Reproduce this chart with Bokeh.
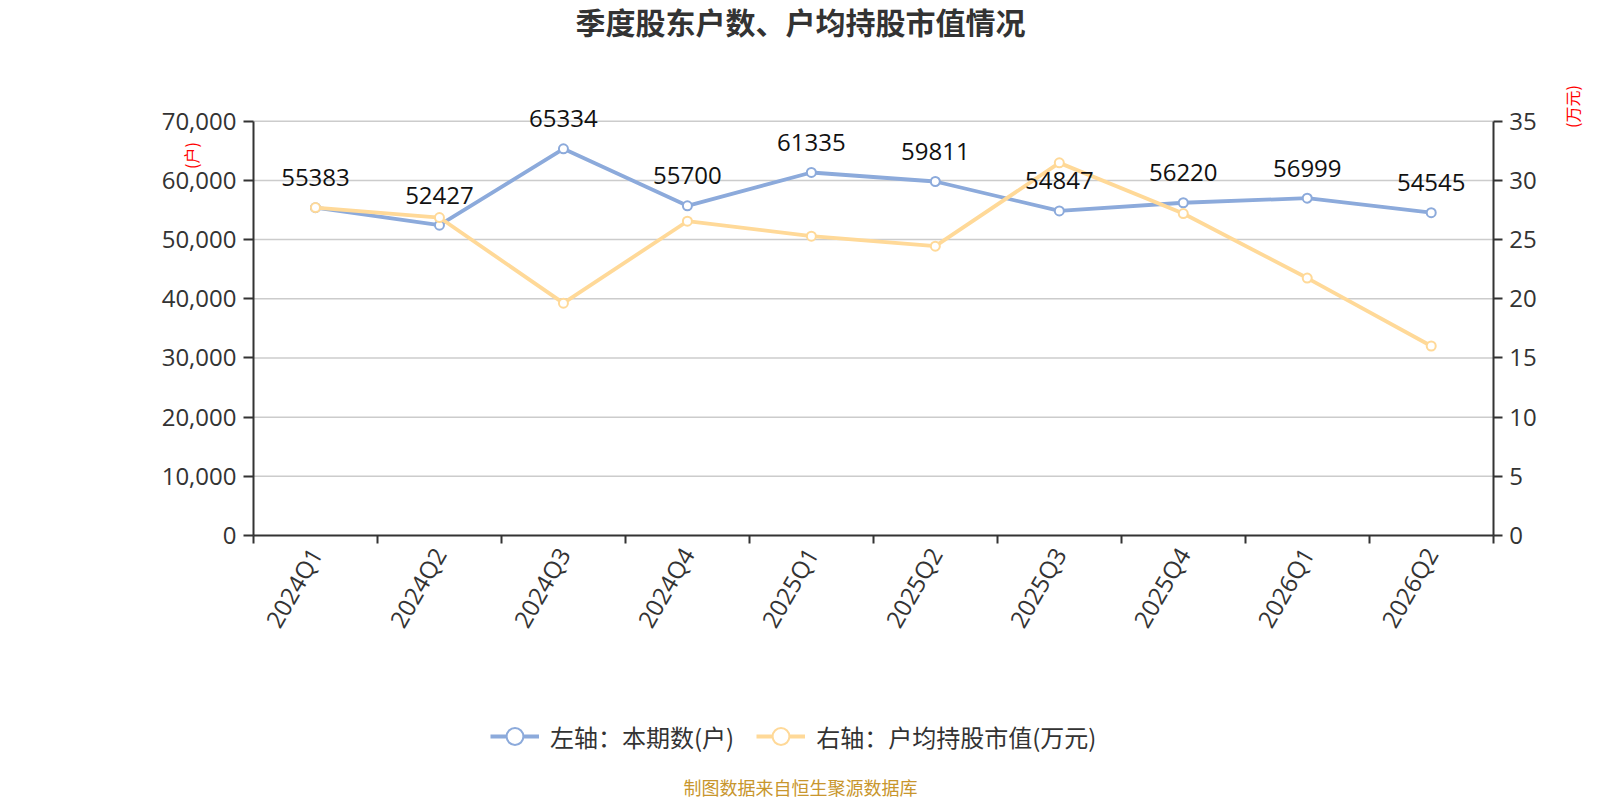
import math
from bokeh.plotting import figure
from bokeh.models import (Range1d, LinearAxis, FixedTicker, NumeralTickFormatter,
                          ColumnDataSource, LabelSet, Label, Legend, LegendItem)
from bokeh.core.properties import value
from bokeh.embed import file_html
from bokeh.resources import INLINE

# ---------------- data ----------------
quarters = ["2024Q1", "2024Q2", "2024Q3", "2024Q4", "2025Q1",
            "2025Q2", "2025Q3", "2025Q4", "2026Q1", "2026Q2"]
holders = [55383, 52427, 65334, 55700, 61335, 59811, 54847, 56220, 56999, 54545]
avg_value = [27.70, 26.86, 19.63, 26.55, 25.29, 24.44, 31.48, 27.20, 21.75, 16.01]
left_ticks = [0, 10000, 20000, 30000, 40000, 50000, 60000, 70000]
right_ticks = [0, 5, 10, 15, 20, 25, 30, 35]

title_text = "季度股东户数、户均持股市值情况"
left_name = "(户)"
right_name = "(万元)"
legend_left = "左轴：本期数(户)"
legend_right = "右轴：户均持股市值(万元)"
footer_text = "制图数据来自恒生聚源数据库"

# ---------------- layout (pixels) ----------------
W, H = 1600, 800
FL, FR, FT, FB = 253.0, 1492.7, 120.7, 535.0   # plotting area edges
BLUE = "#8CAADB"
ORANGE = "#FFD998"
AXIS = "#333333"
NUM_FONT = "Open Sans"
CJK_FONT = "Noto Sans CJK SC"

n = len(quarters)
xs = [i + 0.5 for i in range(n)]
LMAX = left_ticks[-1]
RMAX = right_ticks[-1]

# ranges chosen so that the data area [0,n]x[0,max] sits at the pixel box above
xpu = (FR - FL) / n
x_lo = -FL / xpu
x_hi = n + (W - FR) / xpu
ypu_l = (FB - FT) / LMAX
ypu_r = (FB - FT) / RMAX
yl_lo, yl_hi = -(H - FB) / ypu_l, LMAX + FT / ypu_l
yr_lo, yr_hi = -(H - FB) / ypu_r, RMAX + FT / ypu_r


def px_x(px):
    return (px - FL) / xpu


def px_yl(py):
    return (FB - py) / ypu_l


def px_yr(py):
    return (FB - py) / ypu_r


p = figure(width=W, height=H, output_backend="svg", toolbar_location=None,
           x_range=Range1d(x_lo, x_hi), y_range=Range1d(yl_lo, yl_hi),
           min_border=0, x_axis_type=None, y_axis_type=None)
p.outline_line_color = None
p.background_fill_color = "white"
p.border_fill_color = "white"
p.xgrid.visible = False
p.ygrid.visible = False
p.extra_y_ranges = {"right": Range1d(yr_lo, yr_hi)}

# gridlines across the data area
grid_y = left_ticks[1:]
p.segment(x0=[0] * len(grid_y), x1=[n] * len(grid_y), y0=grid_y, y1=grid_y,
          line_color="#CCCCCC", line_width=1.5, level="underlay")

# bottom axis: labels at category centres, ticks at boundaries
xaxis = LinearAxis(ticker=FixedTicker(ticks=xs, minor_ticks=list(range(n + 1))),
                   major_label_overrides={x: q for x, q in zip(xs, quarters)},
                   fixed_location=0, bounds=(0, n))
xaxis.major_tick_line_color = None
xaxis.minor_tick_line_color = AXIS
xaxis.minor_tick_line_width = 2
xaxis.minor_tick_out = 8
xaxis.minor_tick_in = 0
xaxis.axis_line_color = AXIS
xaxis.axis_line_width = 2
xaxis.major_label_orientation = math.pi / 3
xaxis.major_label_text_font = NUM_FONT
xaxis.major_label_text_font_size = "24px"
xaxis.major_label_text_color = AXIS
xaxis.major_label_standoff = 6
p.add_layout(xaxis, "below")

yaxis = LinearAxis(ticker=FixedTicker(ticks=left_ticks),
                   formatter=NumeralTickFormatter(format="0,0"),
                   fixed_location=0, bounds=(0, LMAX))
yaxis.axis_line_color = AXIS
yaxis.axis_line_width = 2
yaxis.major_tick_line_color = AXIS
yaxis.major_tick_line_width = 2
yaxis.major_tick_out = 10
yaxis.major_tick_in = 0
yaxis.minor_tick_line_color = None
yaxis.major_label_text_font = NUM_FONT
yaxis.major_label_text_font_size = "24px"
yaxis.major_label_text_color = AXIS
yaxis.major_label_standoff = 7
p.add_layout(yaxis, "left")

raxis = LinearAxis(y_range_name="right", ticker=FixedTicker(ticks=right_ticks),
                   fixed_location=n, bounds=(0, RMAX))
raxis.axis_line_color = AXIS
raxis.axis_line_width = 2
raxis.major_tick_line_color = AXIS
raxis.major_tick_line_width = 2
raxis.major_tick_out = 9
raxis.major_tick_in = 0
raxis.minor_tick_line_color = None
raxis.major_label_text_font = NUM_FONT
raxis.major_label_text_font_size = "24px"
raxis.major_label_text_color = AXIS
raxis.major_label_standoff = 7
p.add_layout(raxis, "right")

src = ColumnDataSource(dict(x=xs, h=holders, v=avg_value,
                            lbl=[str(h) for h in holders]))

bl = p.line("x", "h", source=src, line_color=BLUE, line_width=3.8)
bs = p.scatter("x", "h", source=src, size=9, marker="circle", fill_color="white",
               line_color=BLUE, line_width=2)
ol = p.line("x", "v", source=src, y_range_name="right", line_color=ORANGE, line_width=3.8)
os_ = p.scatter("x", "v", source=src, y_range_name="right", size=9, marker="circle",
                fill_color="white", line_color=ORANGE, line_width=2)

labels = LabelSet(x="x", y="h", text="lbl", source=src, text_align="center",
                  text_baseline="middle", y_offset=30, text_font=value(NUM_FONT),
                  text_font_size=value("24px"), text_color="#111111")
p.add_layout(labels)

legend = Legend(items=[LegendItem(label=legend_left, renderers=[bl, bs]),
                       LegendItem(label=legend_right, renderers=[ol, os_])],
                orientation="horizontal", location=(490, H - 757),
                glyph_width=49, glyph_height=42, label_standoff=11, spacing=22,
                padding=0, margin=0, border_line_color=None,
                background_fill_alpha=0,
                label_text_font=CJK_FONT, label_text_font_size="24px",
                label_text_color=AXIS)
p.add_layout(legend)

p.add_layout(Label(x=px_x(190.7), y=px_yl(155), text=left_name, angle=math.pi / 2,
                   text_align="center", text_baseline="middle",
                   text_font=CJK_FONT, text_font_size="16px", text_color="red"))
p.add_layout(Label(x=px_x(1571.7), y=px_yr(106), y_range_name="right", text=right_name,
                   angle=math.pi / 2, text_align="center", text_baseline="middle",
                   text_font=CJK_FONT, text_font_size="16px", text_color="red"))
p.add_layout(Label(x=px_x(800), y=px_yl(20), text=title_text, text_align="center",
                   text_baseline="middle", text_font=CJK_FONT, text_font_size="30px",
                   text_font_style="bold", text_color="#333333"))
p.add_layout(Label(x=px_x(800), y=px_yl(786), text=footer_text, text_align="center",
                   text_baseline="middle", text_font=CJK_FONT, text_font_size="18px",
                   text_color="#C8962D"))

open("out.html", "w").write(file_html(p, INLINE))
